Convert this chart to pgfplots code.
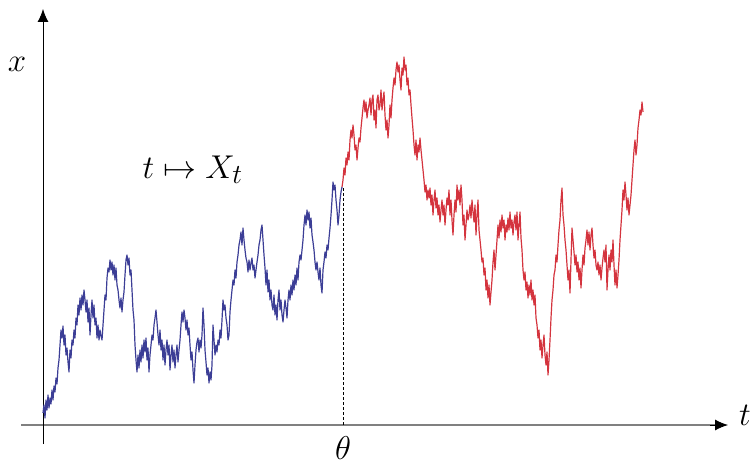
\documentclass[border=0pt]{standalone}
\usepackage{graphicx}
\usepackage{pgfplots}
\pgfplotsset{compat=1.18}
\usetikzlibrary{arrows.meta}
\definecolor{pathblue}{RGB}{60,62,150}
\definecolor{pathred}{RGB}{212,52,62}
\newcommand{\biglabel}[1]{\scalebox{1.33}{\Huge #1}}
\begin{document}
\begin{tikzpicture}
\begin{axis}[
    width=753bp, height=464bp, scale only axis,
    xmin=0, xmax=753, ymin=0, ymax=464, y dir=reverse,
    hide axis, clip=false,
    every node/.style={inner sep=0pt},
]
% axes
\draw[gray, line width=1.3pt] (axis cs:21,425) -- (axis cs:716,425);
\draw[-{Latex[length=13bp,width=11bp]}, line width=0.9pt] (axis cs:710,425) -- (axis cs:728,425);
\draw[-{Latex[length=13bp,width=11bp]}, line width=0.9pt] (axis cs:43,444) -- (axis cs:43,9);
\draw[densely dashed, line width=0.6pt] (axis cs:343,188) -- (axis cs:343,425);
\node[anchor=base] at (axis cs:17,72) {\biglabel{$x$}};
\node[anchor=base] at (axis cs:745,425) {\biglabel{$t$}};
\node[anchor=base] at (axis cs:343,459) {\biglabel{$\theta$}};
\node[anchor=base west] at (axis cs:139,178) {\biglabel{$t\mapsto X_t$}};

\addplot[pathblue, line width=1.2pt, line join=round] coordinates {
(43,413)(44,405)(45,418)(46,400)(47,410)(48,395)(49,408)(50,398)(51,404)(52,390)
(53,400)(54,386)(55,392)(56,378)(57,384)(58,368)(59,360)(60,345)(61,330)(62,338)
(63,326)(64,345)(65,335)(66,355)(67,348)(68,362)(69,372)(70,350)(71,358)(72,340)
(73,345)(74,330)(75,338)(76,318)(77,325)(78,305)(79,315)(80,298)(81,310)(82,295)
(83,305)(84,290)(85,300)(86,312)(87,300)(88,322)(89,308)(90,335)(91,315)(92,300)
(93,318)(94,305)(95,325)(96,318)(97,338)(98,325)(99,340)(100,330)(101,336)(102,340)
(103,325)(104,310)(105,295)(106,300)(107,278)(108,268)(109,272)(110,260)(111,270)(112,262)
(113,275)(114,265)(115,280)(116,268)(117,285)(118,290)(119,300)(120,308)(121,298)(122,312)
(123,300)(124,292)(125,275)(126,260)(127,255)(128,265)(129,258)(130,275)(131,270)(132,290)
(133,310)(134,320)(135,345)(136,360)(137,372)(138,355)(139,368)(140,350)(141,362)(142,345)
(143,358)(144,340)(145,352)(146,338)(147,360)(148,348)(149,372)(150,355)(151,345)(152,335)
(153,340)(154,325)(155,318)(156,310)(157,322)(158,335)(159,345)(160,330)(161,350)(162,340)
(163,360)(164,345)(165,365)(166,350)(167,340)(168,355)(169,345)(170,370)(171,355)(172,345)
(173,362)(174,350)(175,368)(176,355)(177,345)(178,362)(179,350)(180,340)(181,325)(182,312)
(183,322)(184,310)(185,318)(186,330)(187,320)(188,335)(189,328)(190,345)(191,360)(192,352)
(193,370)(194,383)(195,365)(196,350)(197,342)(198,338)(199,352)(200,340)(201,348)(202,335)
(203,308)(204,325)(205,350)(206,362)(207,375)(208,368)(209,383)(210,372)(211,380)(212,365)
(213,325)(214,340)(215,355)(216,345)(217,352)(218,340)(219,345)(220,330)(221,338)(222,320)
(223,300)(224,310)(225,305)(226,318)(227,325)(228,340)(229,335)(230,312)(231,300)(232,290)
(233,280)(234,285)(235,270)(236,278)(237,262)(238,255)(239,245)(240,240)(241,232)(242,245)
(243,228)(244,240)(245,250)(246,258)(247,262)(248,272)(249,260)(250,270)(251,263)(252,258)
(253,270)(254,265)(255,278)(256,270)(257,262)(258,255)(259,245)(260,240)(261,230)(262,225)
(263,240)(264,255)(265,268)(266,285)(267,270)(268,292)(269,280)(270,300)(271,290)(272,305)
(273,310)(274,295)(275,315)(276,305)(277,320)(278,300)(279,290)(280,310)(281,300)(282,315)
(283,322)(284,310)(285,300)(286,308)(287,318)(288,300)(289,290)(290,300)(291,285)(292,295)
(293,280)(294,290)(295,275)(296,285)(297,268)(298,280)(299,262)(300,255)(301,260)(302,250)
(303,240)(304,225)(305,215)(306,225)(307,210)(308,220)(309,212)(310,228)(311,218)(312,235)
(313,242)(314,250)(315,262)(316,270)(317,262)(318,272)(319,280)(320,268)(321,285)(322,293)
(323,270)(324,262)(325,252)(326,258)(327,245)(328,250)(329,238)(330,228)(331,215)(332,200)
(333,182)(334,190)(335,185)(336,200)(337,210)(338,225)(339,215)(340,200)(341,192)(342,187)
};
\addplot[pathred, line width=1.2pt, line join=round] coordinates {
(342,187)(343,180)(344,168)(345,175)(346,158)(347,165)(348,152)(349,160)(350,140)(351,130)
(352,138)(353,125)(354,135)(355,150)(356,145)(357,160)(358,148)(359,138)(360,142)(361,128)
(362,118)(363,108)(364,100)(365,112)(366,102)(367,118)(368,110)(369,105)(370,98)(371,115)
(372,100)(373,95)(374,120)(375,110)(376,128)(377,100)(378,95)(379,110)(380,105)(381,90)
(382,110)(383,100)(384,92)(385,115)(386,130)(387,120)(388,138)(389,125)(390,105)(391,118)
(392,100)(393,88)(394,78)(395,85)(396,70)(397,62)(398,72)(399,65)(400,80)(401,90)
(402,68)(403,75)(404,57)(405,70)(406,65)(407,85)(408,78)(409,95)(410,90)(411,105)
(412,118)(413,130)(414,145)(415,155)(416,140)(417,160)(418,145)(419,152)(420,138)(421,150)
(422,160)(423,170)(424,180)(425,192)(426,185)(427,200)(428,190)(429,198)(430,188)(431,205)
(432,195)(433,215)(434,200)(435,190)(436,208)(437,198)(438,215)(439,205)(440,222)(441,210)
(442,200)(443,215)(444,205)(445,225)(446,210)(447,198)(448,205)(449,190)(450,215)(451,200)
(452,220)(453,235)(454,215)(455,200)(456,212)(457,185)(458,200)(459,190)(460,205)(461,185)
(462,200)(463,225)(464,215)(465,240)(466,225)(467,210)(468,220)(469,215)(470,205)(471,218)
(472,200)(473,212)(474,222)(475,205)(476,235)(477,215)(478,200)(479,230)(480,240)(481,250)
(482,262)(483,258)(484,275)(485,268)(486,290)(487,280)(488,298)(489,285)(490,305)(491,292)
(492,280)(493,262)(494,250)(495,270)(496,255)(497,240)(498,225)(499,238)(500,220)(501,232)
(502,215)(503,228)(504,220)(505,240)(506,225)(507,232)(508,218)(509,230)(510,212)(511,228)
(512,220)(513,235)(514,222)(515,215)(516,230)(517,212)(518,240)(519,225)(520,212)(521,238)
(522,250)(523,270)(524,280)(525,272)(526,290)(527,282)(528,298)(529,285)(530,295)(531,280)
(532,300)(533,290)(534,305)(535,295)(536,318)(537,325)(538,338)(539,330)(540,350)(541,340)
(542,358)(543,345)(544,335)(545,355)(546,365)(547,352)(548,375)(549,360)(550,340)(551,318)
(552,300)(553,290)(554,275)(555,270)(556,255)(557,262)(558,245)(559,230)(560,220)(561,200)
(562,188)(563,215)(564,225)(565,240)(566,250)(567,265)(568,280)(569,270)(570,293)(571,260)
(572,228)(573,240)(574,252)(575,265)(576,255)(577,272)(578,262)(579,280)(580,268)(581,288)
(582,270)(583,255)(584,265)(585,248)(586,240)(587,230)(588,245)(589,232)(590,250)(591,235)
(592,228)(593,245)(594,258)(595,250)(596,265)(597,270)(598,262)(599,275)(600,265)(601,280)
(602,268)(603,258)(604,250)(605,262)(606,245)(607,290)(608,270)(609,255)(610,270)(611,250)
(612,262)(613,240)(614,265)(615,285)(616,270)(617,288)(618,275)(619,260)(620,240)(621,225)
(622,210)(623,190)(624,200)(625,182)(626,195)(627,210)(628,198)(629,215)(630,205)(631,195)
(632,180)(633,165)(634,150)(635,140)(636,155)(637,145)(638,128)(639,120)(640,110)(641,115)
(642,102)(643,112)
};
\end{axis}
\pgfresetboundingbox
\useasboundingbox (current axis.south west) rectangle (current axis.north east);
\end{tikzpicture}
\end{document}
